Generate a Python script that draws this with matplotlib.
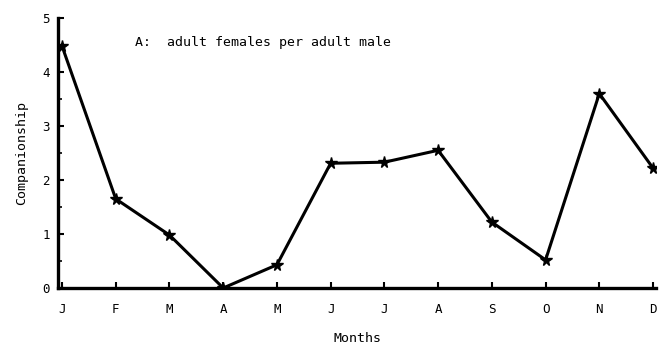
import matplotlib.pyplot as plt

# companionship index per month
months = ["J", "F", "M", "A", "M", "J", "J", "A", "S", "O", "N", "D"]
companionship = [4.48, 1.65, 0.98, 0.0, 0.43, 2.31, 2.33, 2.55, 1.22, 0.52, 3.6, 2.22]
y_ticks = [0, 1, 2, 3, 4, 5]

plt.rcParams["font.family"] = ["DejaVu Sans Mono"]

fig = plt.figure(figsize=(6.6, 3.51), dpi=100)
ax = fig.add_axes([58 / 660, 63 / 351, 598 / 660, 270 / 351])

x = list(range(len(months)))
ax.plot(x, companionship, color="black", linewidth=2.2,
        marker="*", markersize=8.5, markeredgewidth=1.0)

ax.set_xlim(-0.075, 11.055)
ax.set_ylim(0, 5)
ax.set_xticks(x, months)
ax.set_yticks(y_ticks)
ax.set_yticks([0.5, 1.5, 2.5, 3.5, 4.5], minor=True)

for side in ("top", "right"):
    ax.spines[side].set_visible(False)
for side in ("left", "bottom"):
    ax.spines[side].set_linewidth(2.4)

ax.tick_params(axis="both", direction="in", length=4, width=1.5,
               labelsize=9, pad=6)
ax.tick_params(axis="x", pad=11)
ax.tick_params(axis="y", which="minor", direction="in", length=3, width=1.2)

ax.set_xlabel("Months", fontsize=9.5, labelpad=11)
ax.set_ylabel("Companionship", fontsize=9.5, labelpad=10)
ax.text(1.35, 4.55, "A:  adult females per adult male", fontsize=9.5,
        va="center", ha="left")

fig.savefig("out.png", dpi=100)
